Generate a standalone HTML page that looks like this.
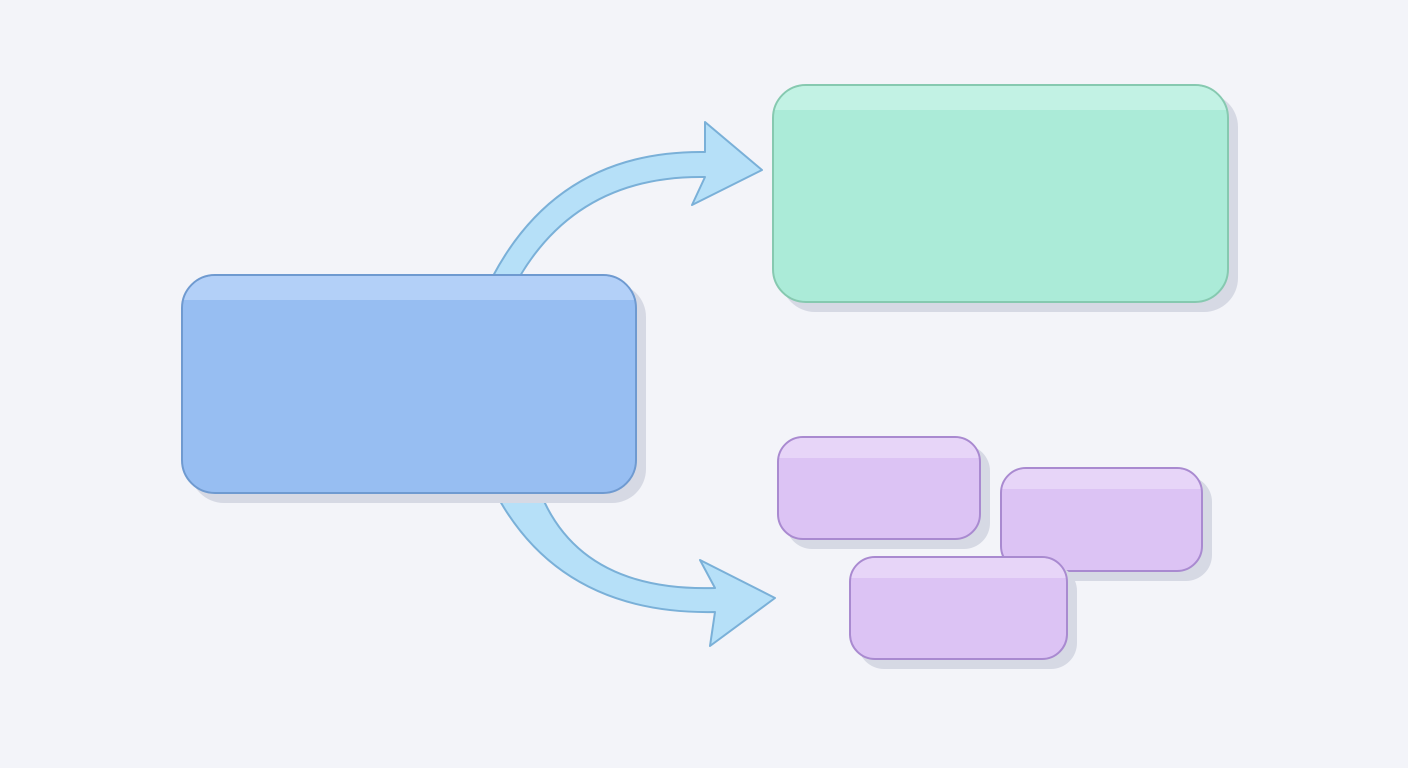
<!DOCTYPE html>
<html><head><meta charset="utf-8"><style>
html,body{margin:0;padding:0;width:1408px;height:768px;background:#f3f4f9;overflow:hidden;font-family:"Liberation Sans",sans-serif}
.b{position:absolute;box-sizing:border-box;border-radius:34px;overflow:hidden}
.sh{position:absolute;border-radius:34px;background:#d6d9e4}
.hl{position:absolute;left:0;right:0;top:0;height:24px;border-radius:34px 34px 0 0}
</style></head><body>
<svg width="1408" height="768" style="position:absolute;left:0;top:0">
<path d="M493,276 Q560,150 705,152 L705,122 L762,170 L692,205 L705,177 Q580,175 520,276 Z" fill="#b6e0f8" stroke="#7ab0d8" stroke-width="2" stroke-linejoin="round"/>
<path d="M495,492 Q560,615 715,612 L710,646 L775,598 L700,560 L715,588 Q580,592 540,492 Z" fill="#b6e0f8" stroke="#7ab0d8" stroke-width="2" stroke-linejoin="round"/>
</svg>

<div class="sh" style="left:190px;top:283px;width:456px;height:220px"></div>
<div class="b" style="left:181px;top:274px;width:456px;height:220px;background:#97bef2;border:2px solid #6f9ad0"><div class="hl" style="background:#b3d0f8"></div></div>

<div class="sh" style="left:781px;top:93px;width:457px;height:219px"></div>
<div class="b" style="left:772px;top:84px;width:457px;height:219px;background:#abebd8;border:2px solid #86c9b0"><div class="hl" style="background:#c2f2e4"></div></div>

<div class="sh" style="left:786px;top:445px;width:204px;height:104px;border-radius:26px"></div>
<div class="b" style="left:777px;top:436px;width:204px;height:104px;border-radius:26px;background:#dcc3f4;border:2px solid #a98ad0"><div class="hl" style="height:20px;background:#e7d5f8;border-radius:26px 26px 0 0"></div></div>

<div class="sh" style="left:1009px;top:476px;width:203px;height:105px;border-radius:26px"></div>
<div class="b" style="left:1000px;top:467px;width:203px;height:105px;border-radius:26px;background:#dcc3f4;border:2px solid #a98ad0"><div class="hl" style="height:20px;background:#e7d5f8;border-radius:26px 26px 0 0"></div></div>

<div class="sh" style="left:858px;top:565px;width:219px;height:104px;border-radius:26px"></div>
<div class="b" style="left:849px;top:556px;width:219px;height:104px;border-radius:26px;background:#dcc3f4;border:2px solid #a98ad0"><div class="hl" style="height:20px;background:#e7d5f8;border-radius:26px 26px 0 0"></div></div>
</body></html>
